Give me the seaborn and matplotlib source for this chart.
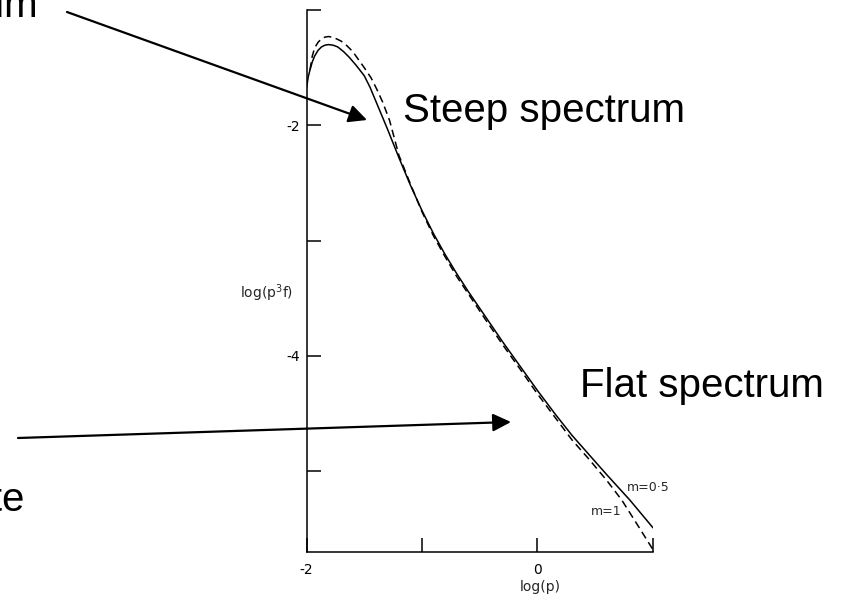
import matplotlib
matplotlib.use("Agg")
import matplotlib.pyplot as plt
import seaborn as sns
import pandas as pd

# Spectrum log(p^3 f) versus log(p) for two values of m
log_p_m05 = [-2.00, -1.985, -1.97, -1.95, -1.93, -1.90, -1.87, -1.84, -1.81,
             -1.77, -1.73, -1.68, -1.63, -1.57, -1.50, -1.45, -1.40, -1.35,
             -1.30, -1.20, -1.10, -1.00, -0.90, -0.80, -0.70, -0.60, -0.45,
             -0.30, -0.15, 0.00, 0.15, 0.30, 0.45, 0.60, 0.80, 1.00]
log_p3f_m05 = [-1.68, -1.58, -1.52, -1.45, -1.40, -1.35, -1.32, -1.305, -1.30,
               -1.305, -1.32, -1.36, -1.41, -1.48, -1.57, -1.67, -1.79, -1.91,
               -2.03, -2.28, -2.52, -2.74, -2.94, -3.12, -3.285, -3.44, -3.66,
               -3.88, -4.09, -4.30, -4.50, -4.69, -4.86, -5.03, -5.25, -5.49]

log_p_m1 = [-1.97, -1.95, -1.93, -1.90, -1.87, -1.84, -1.81, -1.78, -1.74,
            -1.70, -1.65, -1.60, -1.55, -1.50, -1.44, -1.39, -1.34, -1.28,
            -1.20, -1.10, -1.00, -0.90, -0.80, -0.70, -0.60, -0.45, -0.30,
            -0.15, 0.00, 0.15, 0.30, 0.45, 0.60, 0.73, 0.85, 1.00]
log_p3f_m1 = [-1.52, -1.40, -1.33, -1.28, -1.25, -1.235, -1.23, -1.235, -1.25,
              -1.27, -1.31, -1.36, -1.43, -1.50, -1.59, -1.69, -1.80, -1.96,
              -2.26, -2.51, -2.75, -2.96, -3.14, -3.31, -3.46, -3.685, -3.905,
              -4.115, -4.33, -4.53, -4.73, -4.90, -5.08, -5.25, -5.44, -5.68]

x_ticks = [-2, -1, 0, 1]
x_tick_labels = ["-2", "", "0", ""]
y_ticks = [-5, -4, -3, -2, -1]
y_tick_labels = ["", "-4", "", "-2", ""]

curve_labels = ["m=0\u00b75", "m=1"]

W, H = 844, 596


def fx(px):
    return px / W


def fy(py):
    return 1 - py / H


sns.set_style("white")
plt.rcParams["font.family"] = ["DejaVu Sans"]
plt.rcParams["mathtext.default"] = "regular"

fig = plt.figure(figsize=(W / 100, H / 100), dpi=100)
ax = fig.add_axes([fx(306.5), fy(552), 346.5 / W, 542 / H])

df_m05 = pd.DataFrame({"log_p": log_p_m05, "log_p3f": log_p3f_m05})
df_m1 = pd.DataFrame({"log_p": log_p_m1, "log_p3f": log_p3f_m1})

sns.lineplot(data=df_m05, x="log_p", y="log_p3f", ax=ax, color="black",
             linewidth=1.1, sort=False, estimator=None)
sns.lineplot(data=df_m1, x="log_p", y="log_p3f", ax=ax, color="black",
             linewidth=1.1, sort=False, estimator=None)
ax.lines[1].set_dashes((5, 3))

ax.set_xlim(-2, 1)
ax.set_ylim(-5.70, -1.0)

for side in ("top", "right"):
    ax.spines[side].set_visible(False)
for side in ("left", "bottom"):
    ax.spines[side].set_linewidth(1.1)
    ax.spines[side].set_color("black")

ax.set_xticks(x_ticks)
ax.set_xticklabels(x_tick_labels)
ax.set_yticks(y_ticks)
ax.set_yticklabels(y_tick_labels)
ax.tick_params(axis="both", which="major", direction="in", length=10,
               width=1.1, color="black", labelsize=10, labelcolor="black",
               bottom=True, left=True, top=False, right=False)
ax.tick_params(axis="x", pad=8)
ax.tick_params(axis="y", pad=5)
ax.set_xlabel("")
ax.set_ylabel("")

# curve labels
ax.text(0.957, -5.145, curve_labels[0], fontsize=9, ha="center", va="center")
ax.text(0.593, -5.353, curve_labels[1], fontsize=9, ha="center", va="center")

# axis titles
fig.text(fx(293), fy(293), r"log(p$^3$f)", fontsize=10, ha="right", va="center")
fig.text(fx(540), fy(587), "log(p)", fontsize=10, ha="center", va="center")

# annotations
big = dict(fontsize=29, family=["Liberation Sans", "DejaVu Sans"],
           va="baseline", color="black")
fig.text(fx(403), fy(122), "Steep spectrum", ha="left", **big)
fig.text(fx(580), fy(397), "Flat spectrum", ha="left", **big)
fig.text(fx(38), fy(17), "spectrum", ha="right", **big)
fig.text(fx(25), fy(511), "rate", ha="right", **big)

arrow = dict(arrowstyle="-|>,head_length=0.55,head_width=0.27",
             mutation_scale=20, lw=1.6, color="black",
             shrinkA=0, shrinkB=0)
ax.annotate("", xy=(fx(367), fy(120)), xycoords="figure fraction",
            xytext=(fx(67), fy(12)), textcoords="figure fraction",
            arrowprops=arrow, annotation_clip=False)
ax.annotate("", xy=(fx(511), fy(422)), xycoords="figure fraction",
            xytext=(fx(18), fy(438)), textcoords="figure fraction",
            arrowprops=arrow, annotation_clip=False)

fig.savefig("out.png", dpi=100)
